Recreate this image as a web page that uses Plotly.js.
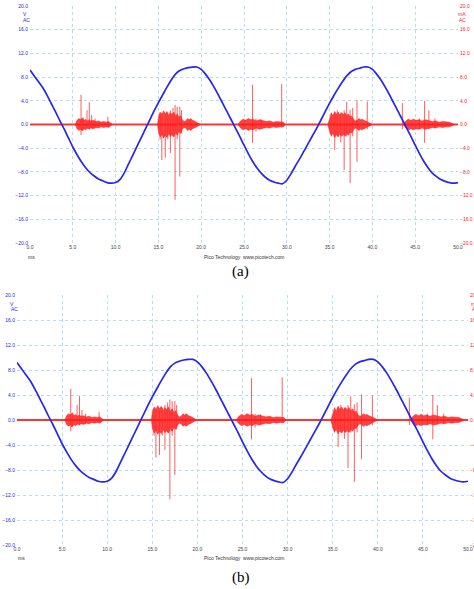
<!DOCTYPE html>
<html><head><meta charset="utf-8">
<script src="https://cdn.plot.ly/plotly-3.0.1.min.js"></script>
<style>html,body{margin:0;padding:0;background:#fff}#c{width:474px;height:589px}</style>
</head><body><div id="c"></div><script>
// ---- data ----
const sampleStepMs = 0.5;
const voltageV = [
 9.2, 8.2, 7.2, 6.2, 4.9, 3.5, 2.1, 0.6, -0.8, -2.3,
 -3.8, -5.1, -6.3, -7.3, -8.1, -8.7, -9.2, -9.5, -9.8, -9.9,
 -9.8, -9.3, -8.2, -6.7, -5.2, -3.7, -2.2, -0.7, 0.8, 2.3,
 3.7, 5.0, 6.3, 7.5, 8.5, 9.1, 9.4, 9.6, 9.7, 9.7,
 9.3, 8.5, 7.5, 6.3, 5.0, 3.6, 2.2, 0.8, -0.6, -2.0,
 -3.5, -4.9, -6.2, -7.3, -8.2, -8.9, -9.4, -9.7, -9.9, -10.0,
 -9.4, -8.3, -7.0, -5.8, -4.5, -3.2, -1.9, -0.6, 0.8, 2.2,
 3.6, 4.9, 6.1, 7.2, 8.2, 8.9, 9.3, 9.5, 9.7, 9.7,
 9.3, 8.5, 7.5, 6.3, 5.0, 3.6, 2.2, 0.8, -0.6, -2.0,
 -3.5, -4.9, -6.2, -7.3, -8.2, -8.8, -9.3, -9.6, -9.8, -9.9,
 -9.8
];
const currentBaseT = [0, 50];
const currentBaseMA = [0, 0];
// noise burst envelopes (ms, mA half-height)
const burstT = [
 [5.3, 5.5, 5.7, 5.9, 6.1, 6.3, 6.5, 6.7, 6.9, 7.1, 7.4, 7.7, 8.0, 8.3, 8.6, 8.9, 9.2, 9.6],
 [14.9, 15.0, 15.2, 15.4, 15.6, 15.8, 16.0, 16.2, 16.4, 16.6, 16.8, 17.0, 17.2, 17.4, 17.6, 17.8, 18.0, 18.2, 18.4, 18.6, 18.8, 19.0, 19.2, 19.5, 19.9],
 [24.3, 24.6, 24.9, 25.2, 25.5, 25.8, 26.1, 26.4, 26.8, 27.2, 27.6, 28.0, 28.4, 28.8, 29.2, 29.6, 29.8],
 [34.8, 35.0, 35.2, 35.4, 35.6, 35.8, 36.0, 36.2, 36.4, 36.6, 36.8, 37.0, 37.2, 37.4, 37.6, 37.8, 38.0, 38.2, 38.4, 38.6, 38.8, 39.0, 39.2, 39.5, 40.0],
 [43.6, 43.9, 44.2, 44.5, 44.8, 45.1, 45.4, 45.8, 46.2, 46.6, 47.0, 47.4, 47.8, 48.2, 48.6, 49.0, 49.6]
];
const burstMA = [
 [0, 0.7, 1.0, 0.8, 1.1, 0.7, 0.9, 0.6, 0.8, 0.6, 0.7, 0.5, 0.6, 0.4, 0.5, 0.4, 0.5, 0],
 [0, 1.2, 2.1, 1.6, 2.3, 1.8, 2.2, 1.5, 2.0, 1.7, 2.1, 1.4, 1.8, 1.2, 1.5, 0.8, 0.5, 0.6, 1.0, 0.8, 1.0, 0.7, 0.6, 0.4, 0],
 [0, 0.6, 0.9, 0.7, 1.0, 0.8, 0.9, 0.6, 0.8, 0.6, 0.5, 0.6, 0.4, 0.5, 0.4, 0.4, 0],
 [0, 1.2, 1.9, 1.5, 2.2, 1.7, 2.1, 1.6, 2.0, 1.7, 2.0, 1.5, 1.8, 1.3, 1.4, 0.9, 0.6, 0.7, 1.0, 0.8, 0.9, 0.7, 0.6, 0.4, 0],
 [0, 0.6, 0.9, 0.7, 0.9, 0.7, 0.8, 0.6, 0.8, 0.6, 0.5, 0.6, 0.4, 0.5, 0.4, 0.4, 0]
];
// individual spikes
const spikeT    = [5.96, 6.2, 6.66, 6.93, 7.2, 7.6, 9.1,
                   15.2, 15.4, 15.8, 16.1, 16.4, 16.7, 16.95, 17.2, 17.5, 17.7, 18.7,
                   26.0, 26.4, 27.0, 29.4,
                   35.2, 35.6, 35.9, 36.3, 36.7, 37.0, 37.4, 37.7, 38.2, 39.4,
                   43.5, 45.5, 46.1, 46.6, 47.3];
const spikeUpMA = [5.0, 1.2, 2.4, 3.8, 1.6, 1.0, 1.3,
                   1.8, 2.0, 1.5, 2.0, 2.4, 2.8, 3.3, 3.0, 3.0, 2.4, 0.8,
                   6.7, 1.0, 0.9, 6.8,
                   2.0, 2.0, 2.4, 2.0, 2.4, 3.8, 2.5, 2.8, 4.1, 3.9,
                   3.6, 1.0, 4.0, 2.4, 1.0];
const spikeDnMA = [-1.8, -1.0, -0.8, -0.8, -0.6, -0.5, -0.3,
                   -2.5, -6.0, -5.6, -2.5, -4.8, -2.0, -12.7, -2.5, -8.8, -1.5, -0.6,
                   -3.1, -1.2, -0.8, -0.5,
                   -2.0, -4.3, -2.0, -3.0, -7.7, -2.0, -9.9, -2.0, -6.3, -0.8,
                   -0.8, -0.8, -3.1, -0.8, -0.6];
const tickFmt = '.1f';

// ---- build ----
const timeMs = voltageV.map((_, i) => i * sampleStepMs);
const envX = [], envY = [];
burstT.forEach((ts, k) => {
  const as = burstMA[k];
  ts.forEach((t, i) => { envX.push(t); envY.push(as[i]); });
  for (let i = ts.length - 1; i >= 0; i--) { envX.push(ts[i]); envY.push(-as[i]); }
  envX.push(null); envY.push(null);
});
const spX = [], spY = [];
spikeT.forEach((t, i) => { spX.push(t, t, null); spY.push(spikeDnMA[i], spikeUpMA[i], null); });

const RED = '#ff1a1a', BLUE = '#2626ee';
function panelTraces(xa, yRed, yBlue) {
  return [
    {x: envX, y: envY, xaxis: xa, yaxis: yRed, mode: 'lines', fill: 'toself',
     fillcolor: 'rgba(255,20,20,0.8)', line: {color: 'rgba(255,20,20,0.85)', width: 0.6}, hoverinfo: 'skip'},
    {x: spX, y: spY, xaxis: xa, yaxis: yRed, mode: 'lines',
     line: {color: 'rgba(255,40,40,0.75)', width: 1}, hoverinfo: 'skip'},
    {x: currentBaseT, y: currentBaseMA, xaxis: xa, yaxis: yRed, mode: 'lines',
     line: {color: 'rgba(255,30,30,0.9)', width: 2}},
    {x: timeMs, y: voltageV, xaxis: xa, yaxis: yBlue, mode: 'lines',
     line: {color: BLUE, width: 1.7, shape: 'spline', smoothing: 0.6}}
  ];
}
const data = [...panelTraces('x', 'y', 'y2'), ...panelTraces('x2', 'y3', 'y4')];

const W = 474, H = 589;
const px = v => v / W, py = v => 1 - v / H;
const grid = {showgrid: true, gridcolor: '#b3e0ef', griddash: 'dot', gridwidth: 1, zeroline: false, showline: false, ticks: '', fixedrange: true};
const tf = c => ({family: 'Liberation Sans, Arial, sans-serif', size: 5, color: c});
function xAx(d, anchor) { return Object.assign({}, grid, {domain: d, anchor: anchor, range: [0, 50], dtick: 5, tick0: 0, tickformat: tickFmt, tickfont: tf('#444')}); }
function yAx(d, anchor) { return Object.assign({}, grid, {domain: d, anchor: anchor, range: [-20, 20], dtick: 4, tick0: 0, tickformat: tickFmt, tickfont: tf(BLUE), ticklabelstandoff: 1}); }
function yAxR(over, anchor) { return {overlaying: over, anchor: anchor, side: 'right', range: [-20, 20], dtick: 4, tick0: 0, tickformat: tickFmt, tickfont: tf(RED), showgrid: false, zeroline: false, showline: false, ticks: '', fixedrange: true, ticklabelstandoff: 1}; }

function ann(text, x, y, color, size, family, xanchor) {
  return {text: text, xref: 'paper', yref: 'paper', x: px(x), y: py(y), showarrow: false,
          xanchor: xanchor || 'center', yanchor: 'middle', font: {family: family || 'Liberation Sans, Arial, sans-serif', size: size || 5, color: color}};
}
const annotations = [
  ann('V', 25, 14, BLUE), ann('AC', 26, 19.5, BLUE),
  ann('mA', 462, 14, RED), ann('AC', 462, 19.5, RED),
  ann('ms', 32, 256.5, '#333'),
  ann('Pico Technology  www.picotech.com', 244, 256.5, '#333'),
  ann('(a)', 240, 272, '#000', 15, 'Liberation Serif, Times New Roman, serif'),
  ann('V', 12, 304, BLUE), ann('AC', 14, 308.5, BLUE),
  ann('mA', 475, 304, RED), ann('AC', 475, 308.5, RED),
  ann('ms', 21, 558, '#333'),
  ann('Pico Technology  www.picotech.com', 244, 558, '#333'),
  ann('(b)', 241, 577, '#000', 15, 'Liberation Serif, Times New Roman, serif')
];

const layout = {
  width: W, height: H, margin: {l: 0, r: 0, t: 0, b: 0},
  paper_bgcolor: '#fff', plot_bgcolor: '#fff', showlegend: false,
  xaxis: xAx([px(30), px(458)], 'y'),
  yaxis: yAx([py(243), py(6)], 'x'),
  yaxis2: yAxR('y', 'x'),
  xaxis2: xAx([px(17), px(468)], 'y3'),
  yaxis3: yAx([py(545), py(295)], 'x2'),
  yaxis4: yAxR('y3', 'x2'),
  annotations: annotations
};
Plotly.newPlot('c', data, layout, {displayModeBar: false, staticPlot: true});
</script></body></html>
